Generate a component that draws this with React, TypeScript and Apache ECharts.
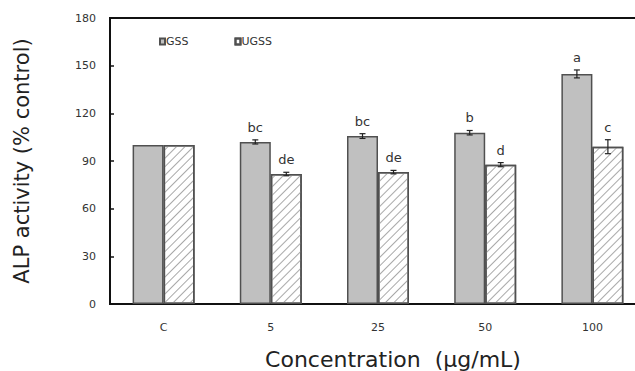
import React, { useEffect, useRef } from "react";
import * as echarts from "echarts";

const categories = ["C", "5", "25", "50", "100"];
const gssValues = [100, 102, 105.7, 107.8, 144.8];
const ugssValues = [100, 81.8, 83, 87.7, 99];
const gssErrors = [0, 1.3, 1.5, 1.4, 2.5];
const ugssErrors = [0, 1.1, 1.1, 1.3, 4.4];
const gssLetters = ["", "bc", "bc", "b", "a"];
const ugssLetters = ["", "de", "de", "d", "c"];
const yTicks = [0, 30, 60, 90, 120, 150, 180];

const BAR_W = 31;
const CHART_W = 660;

function errorSeries(name: string, values: number[], errs: number[], letters: string[], offset: number) {
  return {
    type: "custom",
    name: name + "-err",
    z: 10,
    silent: true,
    data: values.map((v, i) => [i, v, errs[i]]),
    renderItem: (params: any, api: any) => {
      const i = api.value(0);
      const v = api.value(1);
      const e = api.value(2);
      const base = api.coord([i, v]);
      const x = base[0] + offset;
      const children: any[] = [];
      const letter = letters[params.dataIndex];
      if (e > 0) {
        const t = api.coord([i, v + e])[1];
        const b = api.coord([i, v - e])[1];
        const st = { stroke: "#222", lineWidth: 1.2 };
        children.push({ type: "line", shape: { x1: x, y1: t, x2: x, y2: b }, style: st });
        children.push({ type: "line", shape: { x1: x - 3, y1: t, x2: x + 3, y2: t }, style: st });
        children.push({ type: "line", shape: { x1: x - 3, y1: b, x2: x + 3, y2: b }, style: st });
        if (letter) {
          children.push({
            type: "text",
            style: {
              text: letter,
              x: x,
              y: t - 6,
              align: "center",
              verticalAlign: "bottom",
              fill: "#333",
              fontSize: 13,
              fontFamily: "DejaVu Sans, sans-serif",
            },
          });
        }
      }
      return { type: "group", children };
    },
  };
}

export default function App() {
  const ref = useRef<HTMLDivElement>(null);
  useEffect(() => {
    if (!ref.current) return;
    const chart = echarts.init(ref.current, null, { renderer: "svg" });
    chart.setOption({
      animation: false,
      backgroundColor: "#fff",
      textStyle: { fontFamily: "DejaVu Sans, sans-serif" },
      legend: {
        left: 154,
        top: 31,
        itemWidth: 5,
        itemHeight: 6,
        itemGap: 46,
        icon: "rect",
        data: ["GSS", "UGSS"],
        textStyle: { fontSize: 11, color: "#333", padding: [0, 0, 0, -4] },
      },
      grid: {
        left: 110,
        top: 18,
        right: CHART_W - 646,
        bottom: 67,
        show: true,
        borderColor: "#111",
        borderWidth: 2,
        outerBoundsMode: "none",
      },
      xAxis: {
        type: "category",
        data: categories,
        name: "Concentration  (μg/mL)",
        nameLocation: "middle",
        nameGap: 44,
        nameTextStyle: { fontSize: 22, color: "#222", padding: [0, 0, 0, 30] },
        axisLine: { lineStyle: { color: "#111", width: 2 } },
        axisTick: { inside: true, length: 3, lineStyle: { color: "#111", width: 1.5 } },
        axisLabel: { fontSize: 11, color: "#333", margin: 18 },
      },
      yAxis: {
        type: "value",
        min: 0,
        max: 180,
        interval: 30,
        name: "ALP activity (% control)",
        nameLocation: "middle",
        nameGap: 78,
        nameTextStyle: { fontSize: 21, color: "#222" },
        axisLine: { show: true, lineStyle: { color: "#111", width: 2 } },
        axisTick: { show: true, inside: true, length: 4, lineStyle: { color: "#111", width: 1.5 } },
        axisLabel: {
          fontSize: 11,
          color: "#333",
          margin: 14,
          formatter: (v: number) => (yTicks.includes(v) ? String(v) : ""),
        },
        splitLine: { show: false },
      },
      series: [
        {
          name: "GSS",
          type: "bar",
          data: gssValues,
          barWidth: BAR_W,
          barGap: "0%",
          itemStyle: { color: "#c0c0c0", borderColor: "#505050", borderWidth: 1.5 },
        },
        {
          name: "UGSS",
          type: "bar",
          data: ugssValues,
          barWidth: BAR_W,
          barGap: "0%",
          itemStyle: {
            color: "#ffffff",
            borderColor: "#505050",
            borderWidth: 1.5,
            decal: {
              symbol: "rect",
              symbolSize: 1,
              color: "#a8a8a8",
              dashArrayX: [1, 0],
              dashArrayY: [1, 4.5],
              rotation: -Math.PI / 4,
            },
          },
        },
        errorSeries("GSS", gssValues, gssErrors, gssLetters, -BAR_W / 2),
        errorSeries("UGSS", ugssValues, ugssErrors, ugssLetters, BAR_W / 2),
      ],
    });
    return () => chart.dispose();
  }, []);
  return (
    <div style={{ position: "absolute", left: 0, top: 0, width: 635, height: 371, overflow: "hidden" }}>
      <div ref={ref} style={{ width: CHART_W, height: 371 }} />
    </div>
  );
}
